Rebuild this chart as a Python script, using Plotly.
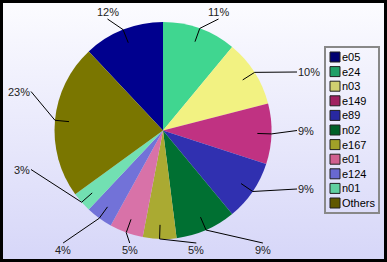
import math
import plotly.graph_objects as go

# ---- data ----
labels = ["e05", "e24", "n03", "e149", "e89", "n02", "e167", "e01", "e124", "n01", "Others"]
values = [12, 11, 10, 9, 9, 9, 5, 5, 4, 3, 23]
slice_colors = ["#00008e", "#40d690", "#f2f282", "#c03282", "#3030b0", "#007032",
                "#aaaa32", "#d872a8", "#7272d8", "#72e0b2", "#7a7600"]
legend_colors = ["#000070", "#20a068", "#d0d070", "#a02060", "#2828a0", "#006028",
                 "#a0a028", "#d06090", "#6868d0", "#60d0a0", "#605800"]

W, H = 387, 262
CX, CY, R = 163.0, 130.5, 108.5
total = sum(values)
start_angle = -360.0 * values[0] / total  # first slice ends at 12 o'clock


def px(x):
    return x / W


def py(y):
    return 1 - y / H


fig = go.Figure()

# background gradient
fig.add_trace(go.Scatter(
    x=[0, 1, 1, 0, 0], y=[0, 0, 1, 1, 0], mode="none", fill="toself",
    fillgradient=dict(type="vertical", colorscale=[[0, "#d6d6f8"], [1, "#fcfcff"]]),
    hoverinfo="skip", showlegend=False))

fig.add_trace(go.Pie(
    labels=labels, values=values, sort=False, direction="clockwise",
    rotation=start_angle, textinfo="none", showlegend=False,
    marker=dict(colors=slice_colors, line=dict(width=0)),
    domain=dict(x=[px(CX - R), px(CX + R)], y=[py(CY + R), py(CY - R)]),
    hoverinfo="label+percent"))

shapes = []
annotations = []
font = dict(family="Liberation Sans, Arial, sans-serif", size=11, color="#222222")

# ---- slice labels with leader lines ----
sides = {"top": [], "right": [], "bottom": [], "left": []}
cum = start_angle
c45 = math.cos(math.radians(45))
for i, v in enumerate(values):
    mid = cum + 360.0 * v / total / 2
    cum += 360.0 * v / total
    a = math.radians(mid)
    s, c = math.sin(a), math.cos(a)
    if c >= c45:
        sides["top"].append((s, i, s, c))
    elif s > c45:
        sides["right"].append((-c, i, s, c))
    elif c <= -c45:
        sides["bottom"].append((s, i, s, c))
    else:
        sides["left"].append((-c, i, s, c))

for side, items in sides.items():
    items.sort()
    n = len(items)
    for k, (_, i, s, c) in enumerate(items):
        off = k + 1 - (n + 1) / 2
        if side == "top":
            ex, ey = CX + off * 333 / (n + 1), CY - 111.5
            anc = dict(xanchor="center", yanchor="bottom")
        elif side == "bottom":
            ex, ey = CX + off * 333 / (n + 1), CY + 112.5
            anc = dict(xanchor="center", yanchor="top")
        elif side == "right":
            ex, ey = CX + 134, CY + off * 234 / (n + 1)
            anc = dict(xanchor="left", yanchor="middle")
        else:
            ex, ey = CX - 132, CY + off * 234 / (n + 1)
            anc = dict(xanchor="right", yanchor="middle")
        ix, iy = CX + 0.87 * R * s, CY - 0.87 * R * c
        kx, ky = CX + 1.0 * R * s, CY - 1.0 * R * c
        for (x0, y0, x1, y1) in [(ix, iy, kx, ky), (kx, ky, ex, ey)]:
            shapes.append(dict(type="line", xref="paper", yref="paper",
                               x0=px(x0), y0=py(y0), x1=px(x1), y1=py(y1),
                               line=dict(color="black", width=1)))
        pct = round(100.0 * values[i] / total)
        annotations.append(dict(text=f"{pct}%", xref="paper", yref="paper",
                                x=px(ex), y=py(ey), showarrow=False, font=font,
                                borderpad=0, **anc))

# ---- legend ----
LX0, LX1, LY0, LY1 = 325, 379, 47, 213
shapes.append(dict(type="rect", xref="paper", yref="paper",
                   x0=px(LX0), x1=px(LX1), y0=py(LY1), y1=py(LY0),
                   line=dict(color="#888888", width=2), fillcolor="rgba(0,0,0,0)"))
step = (203 - 57) / (len(labels) - 1)
for i, lab in enumerate(labels):
    yc = 57 + i * step
    shapes.append(dict(type="rect", xref="paper", yref="paper",
                       x0=px(330), x1=px(340), y0=py(yc + 5), y1=py(yc - 5),
                       line=dict(color="#202020", width=1), fillcolor=legend_colors[i]))
    annotations.append(dict(text=lab, xref="paper", yref="paper", x=px(341), y=py(yc),
                            xanchor="left", yanchor="middle", showarrow=False,
                            borderpad=0, font=dict(family=font["family"], size=11, color="black")))

# outer black frame
shapes.append(dict(type="rect", xref="paper", yref="paper", x0=0, x1=1, y0=0, y1=1,
                   line=dict(color="black", width=6), fillcolor="rgba(0,0,0,0)"))

fig.update_layout(
    width=W, height=H, margin=dict(l=0, r=0, t=0, b=0),
    paper_bgcolor="#e8e8fb", plot_bgcolor="rgba(0,0,0,0)",
    xaxis=dict(range=[0, 1], visible=False, fixedrange=True, domain=[0, 1]),
    yaxis=dict(range=[0, 1], visible=False, fixedrange=True, domain=[0, 1]),
    shapes=shapes, annotations=annotations, showlegend=False,
)

fig.write_html("out.html")
